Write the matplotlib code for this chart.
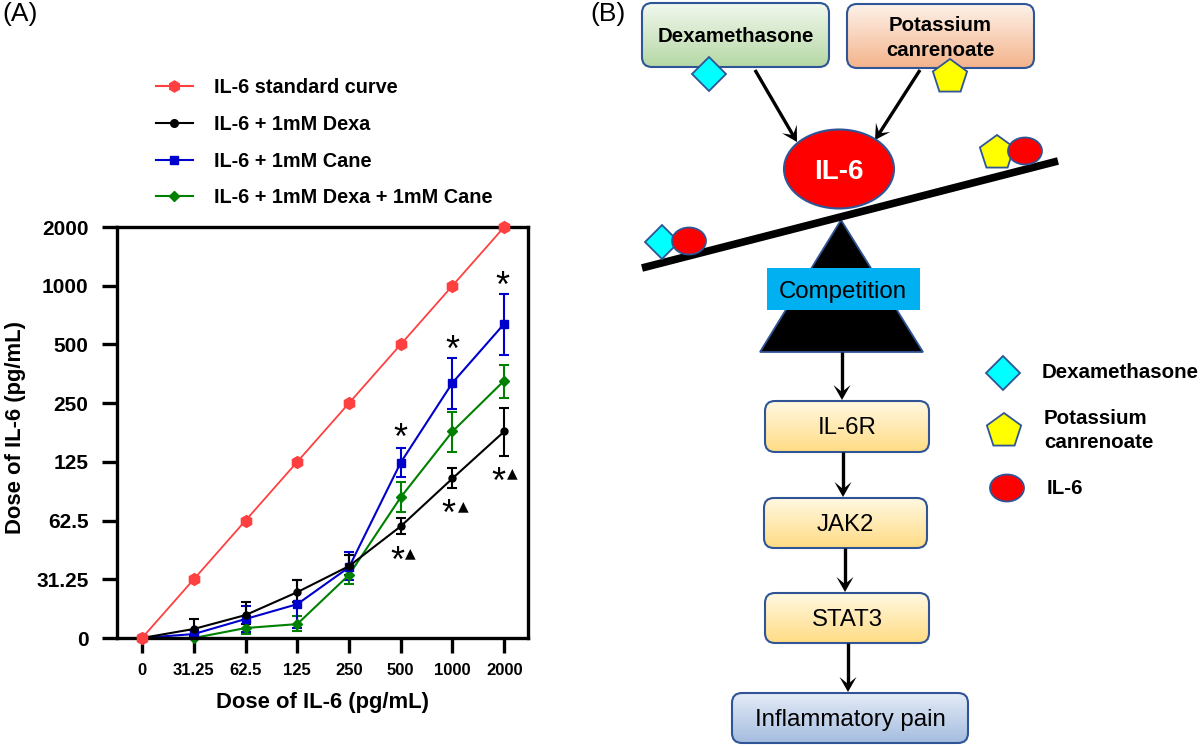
import numpy as np
import matplotlib
matplotlib.use('Agg')
import matplotlib.pyplot as plt
from matplotlib.lines import Line2D
from matplotlib.patches import FancyBboxPatch, Ellipse, Polygon, Rectangle
from matplotlib.colors import LinearSegmentedColormap

plt.rcParams['font.family'] = ['Liberation Sans', 'DejaVu Sans']

doses = ['0', '31.25', '62.5', '125', '250', '500', '1000', '2000']
yticks = [0, 31.25, 62.5, 125, 250, 500, 1000, 2000]

std_curve = [0, 31.25, 62.5, 125, 250, 500, 1000, 2000]

dexa = [0, 4.8, 12.2, 24.4, 36.5, 58.4, 102.8, 178.9]
dexa_hi = [0, 10.1, 19.1, 30.8, 41.5, 64.2, 115.7, 237]
dexa_lo = [0, 1, 7.4, 19, 33, 53.2, 91.4, 133.4]

cane = [0, 2.1, 10.1, 18, 36, 124, 318, 638]
cane_hi = [0, 4.2, 17, 30.8, 43, 148, 427.6, 908]
cane_lo = [0, 0, 3.2, 5.3, 30.8, 104, 234.6, 443]

both = [0, 0, 5.3, 7.4, 32.9, 82.3, 178.9, 326]
both_hi = [0, 0, 9.6, 11.7, 41.5, 98, 226, 393.6]
both_lo = [0, 0, 2.1, 3.7, 28.7, 68.9, 141, 267]


def forward(v):
  v = np.asarray(v, dtype=float)
  return np.where(v < 31.25, v / 31.25, 1 + np.log2(np.maximum(v, 31.25) / 31.25))

def inverse(p):
  p = np.asarray(p, dtype=float)
  return np.where(p < 1, p * 31.25, 31.25 * 2 ** (p - 1))

W, H = 1200, 746
fig = plt.figure(figsize=(W / 100, H / 100), dpi=100)

# full figure axes in pixels, for panel B and the small annotations
bg = fig.add_axes([0, 0, 1, 1])
bg.set_xlim(0, W)
bg.set_ylim(H, 0)
bg.axis('off')

ax = fig.add_axes([117 / W, 1 - 638 / H, 411 / W, 411 / H])
ax.patch.set_alpha(0)
ax.set_yscale('function', functions=(forward, inverse))
ax.set_xlim(-0.484, 7.46)
ax.set_ylim(0, 2000)

def series(y, hi, lo, color, marker, ms):
  y = np.array(y)
  err = [y - np.array(lo), np.array(hi) - y]
  ax.errorbar(range(8), y, yerr=err, color=color, marker=marker, ms=ms, lw=1.5,
              elinewidth=1.5, capsize=3.5, capthick=1.5, clip_on=False)

RED, BLUE, GREEN = '#FF4040', '#0000CC', '#008000'
ax.plot(range(8), std_curve, color=RED, marker='h', ms=8.5, lw=1.3, clip_on=False, zorder=4)
series(both, both_hi, both_lo, GREEN, 'D', 5)
series(cane, cane_hi, cane_lo, BLUE, 's', 5.5)
series(dexa, dexa_hi, dexa_lo, 'black', 'o', 5)

ax.set_xticks(range(8))
ax.set_xticklabels(doses, fontweight='bold', fontsize=12)
ax.set_yticks(yticks)
ax.set_yticklabels(doses, fontweight='bold', fontsize=15)
ax.minorticks_off()
ax.tick_params(axis='x', width=2.4, length=11, pad=7)
ax.tick_params(axis='y', width=2.4, length=11, pad=9.5)
for s in ax.spines.values():
  s.set_linewidth(2.4)
ax.set_xlabel('Dose of IL-6 (pg/mL)', fontweight='bold', fontsize=15.8, labelpad=10)
bg.text(16, 428, 'Dose of IL-6 (pg/mL)', fontweight='bold', fontsize=15.8, rotation=90,
        ha='center', va='center')

handles = [Line2D([], [], color=RED, marker='h', ms=8, lw=1.5),
           Line2D([], [], color='black', marker='o', ms=5.5, lw=1.5),
           Line2D([], [], color=BLUE, marker='s', ms=6, lw=1.5),
           Line2D([], [], color=GREEN, marker='D', ms=5.5, lw=1.5)]
labels = ['IL-6 standard curve', 'IL-6 + 1mM Dexa', 'IL-6 + 1mM Cane', 'IL-6 + 1mM Dexa + 1mM Cane']
ax.legend(handles, labels, loc='lower left',
          bbox_to_anchor=(138 / W, 1 - 225 / H), bbox_transform=fig.transFigure,
          frameon=False, prop={'weight': 'bold', 'size': 14.3}, handlelength=1.85,
          handletextpad=1.1, labelspacing=0.885)

# significance marks
for x, y in [(502, 287), (452, 351), (400, 439), (498, 483), (448, 515), (397, 562)]:
  bg.text(x, y, '*', fontsize=26, ha='center', va='center', color='black')
for x, y in [(512, 473), (463, 506), (410, 553)]:
  bg.text(x, y, '\u25b2', fontsize=10, ha='center', va='center', color='black',
          family='DejaVu Sans')

bg.text(2, 14, '(A)', fontsize=19, va='center')
bg.text(590, 14, '(B)', fontsize=19, va='center')

# panel B
edge = '#2F5597'

def grad_box(x0, y0, x1, y1, c_top, c_bot, text, weight='normal', size=17.3):
  patch = FancyBboxPatch((x0 + 9, y0 + 9), x1 - x0 - 18, y1 - y0 - 18,
                         boxstyle='round,pad=9,rounding_size=10', fc='none', ec=edge, lw=1.5, zorder=3)
  bg.add_patch(patch)
  cmap = LinearSegmentedColormap.from_list('g', [c_top, c_bot])
  im = bg.imshow(np.linspace(0, 1, 64).reshape(-1, 1), cmap=cmap, extent=(x0, x1, y1, y0),
                 aspect='auto', zorder=2)
  im.set_clip_path(patch)
  bg.text((x0 + x1) / 2, (y0 + y1) / 2 + 2, text, ha='center', va='center', fontsize=size,
          fontweight=weight, zorder=4, linespacing=1.35)

def arrow(x0, y0, x1, y1):
  # line plus a barbed head with a deep notch
  tip = np.array([x1, y1], dtype=float)
  d = tip - np.array([x0, y0])
  d = d / np.hypot(*d)
  n = np.array([-d[1], d[0]])
  bg.plot([x0, x1 - 6 * d[0]], [y0, y1 - 6 * d[1]], color='black', lw=2.4, solid_capstyle='butt', zorder=5)
  head = [tip, tip - 15 * d + 8.5 * n, tip - 8 * d, tip - 15 * d - 8.5 * n]
  bg.add_patch(Polygon(head, fc='black', ec='none', zorder=5))

def diamond(cx, cy, r=17):
  bg.add_patch(Polygon([(cx, cy - r), (cx + r, cy), (cx, cy + r), (cx - r, cy)], fc='#00FFFF',
                       ec=edge, lw=1.3, zorder=6))

def pentagon(cx, cy, r=18):
  a = np.deg2rad(np.arange(5) * 72 - 90)
  bg.add_patch(Polygon(np.c_[cx + r * np.cos(a), cy + r * np.sin(a)], fc='#FFFF00', ec=edge,
                       lw=1.3, zorder=6))

def blob(cx, cy, w=34, h=27):
  bg.add_patch(Ellipse((cx, cy), w, h, fc='#FF0000', ec=edge, lw=1.3, zorder=7))

grad_box(642, 3, 829, 67, '#F2F8EE', '#B5D8A5', 'Dexamethasone', 'bold', 14.7)
grad_box(847, 4, 1034, 68, '#FDF1E8', '#F4B48C', 'Potassium\ncanrenoate', 'bold', 14.7)
diamond(709, 74)
pentagon(950, 77)
arrow(755, 70, 797, 142)
arrow(920, 70, 875, 140)

bg.plot([642, 1058], [268, 161], color='black', lw=5.5, solid_capstyle='butt', zorder=4)
bg.add_patch(Ellipse((839, 169), 110, 79, fc='#FF0000', ec=edge, lw=1.5, zorder=5))
bg.text(839, 172, 'IL-6', color='white', fontsize=20, fontweight='bold', ha='center',
        va='center', zorder=8)
pentagon(997, 153)
blob(1025, 151)
diamond(662, 242)
blob(689, 241)

bg.add_patch(Polygon([(841, 220), (923, 352), (760, 352)], fc='black', ec=edge, lw=1.3, zorder=3))
bg.add_patch(Rectangle((767, 268), 153, 42, fc='#00B0F0', ec='none', zorder=4))
bg.text(843, 292, 'Competition', fontsize=17.3, ha='center', va='center', zorder=5)

arrow(842, 352, 842, 400)
arrow(843, 452, 843, 497)
arrow(845, 548, 845, 592)
arrow(848, 643, 848, 692)

yellow = ('#FFF8E1', '#FFDC85')
grad_box(765, 401, 929, 452, *yellow, 'IL-6R')
grad_box(764, 498, 927, 548, *yellow, 'JAK2')
grad_box(765, 593, 929, 643, *yellow, 'STAT3')
grad_box(732, 693, 968, 743, '#E4EBF6', '#A5BDE0', 'Inflammatory pain')

diamond(1003, 373)
pentagon(1004, 431)
blob(1007, 488)
bg.text(1042, 372, 'Dexamethasone', fontsize=14.8, fontweight='bold', va='center')
bg.text(1044, 418, 'Potassium', fontsize=14.8, fontweight='bold', va='center')
bg.text(1044, 443, 'canrenoate', fontsize=14.8, fontweight='bold', va='center')
bg.text(1047, 489, 'IL-6', fontsize=14.8, fontweight='bold', va='center')

bg.set_xlim(0, W)
bg.set_ylim(H, 0)

fig.savefig('out.png', dpi=100)
